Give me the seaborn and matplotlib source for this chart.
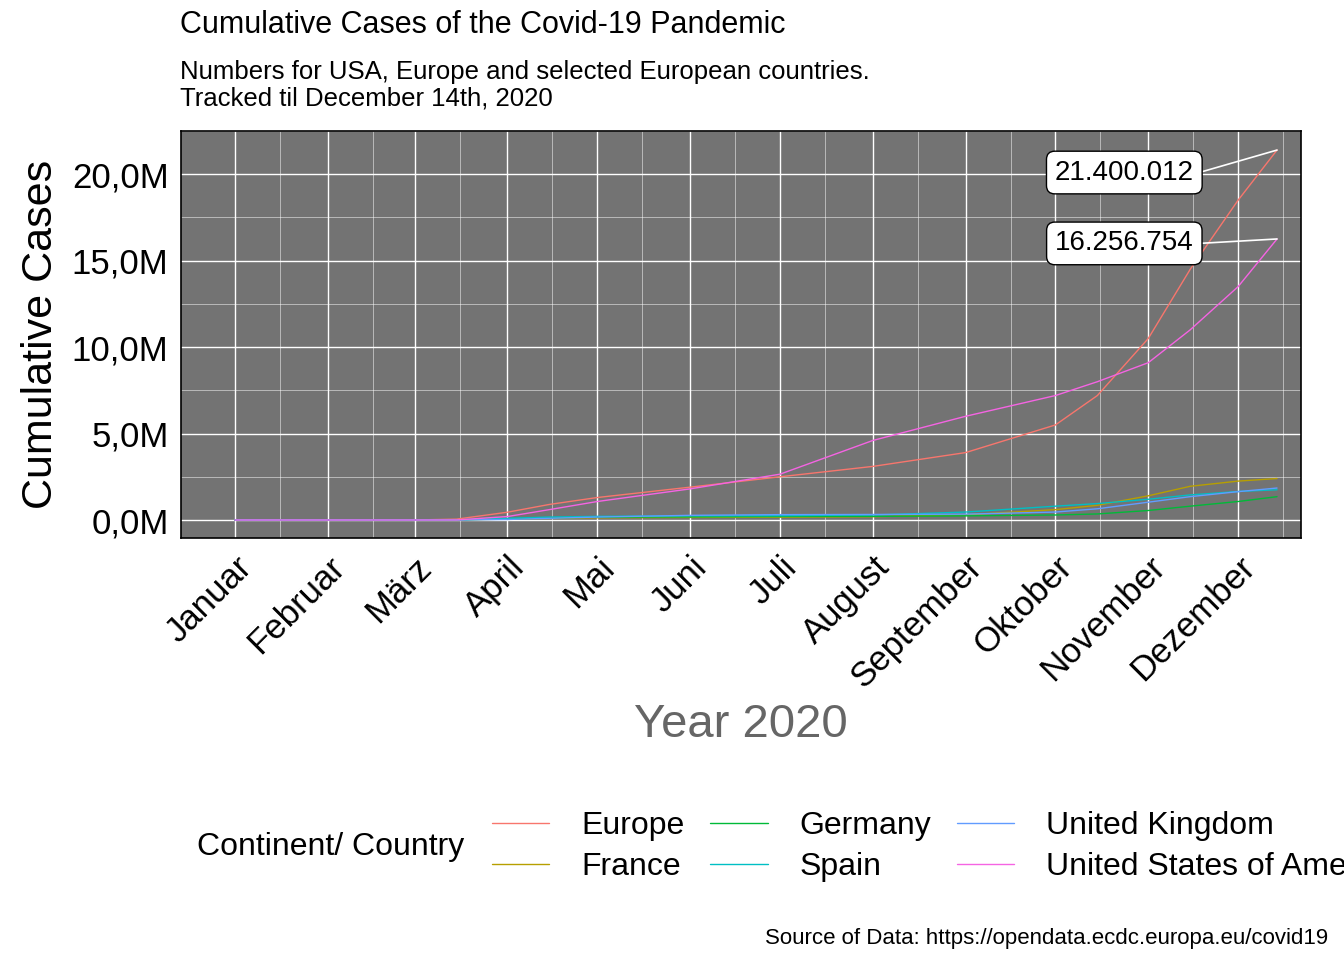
import numpy as np
import pandas as pd
import matplotlib.pyplot as plt
import seaborn as sns
from matplotlib.offsetbox import HPacker

# Kumulierte Fälle in Millionen
dates = ["2020-01-01", "2020-03-01", "2020-03-15", "2020-04-01", "2020-04-15", "2020-05-01",
         "2020-06-01", "2020-07-01", "2020-08-01", "2020-09-01", "2020-10-01", "2020-10-15",
         "2020-11-01", "2020-11-15", "2020-12-01", "2020-12-14"]
europe = [0, 0.002, 0.05, 0.45, 0.9, 1.3, 1.9, 2.5, 3.1, 3.9, 5.5, 7.2, 10.5, 14.5, 18.5, 21.400012]
france = [0, 0.0, 0.005, 0.05, 0.1, 0.13, 0.15, 0.16, 0.19, 0.3, 0.6, 0.85, 1.4, 1.95, 2.25, 2.4]
germany = [0, 0.0, 0.005, 0.07, 0.13, 0.16, 0.18, 0.2, 0.21, 0.24, 0.29, 0.35, 0.55, 0.8, 1.07, 1.35]
spain = [0, 0.0, 0.008, 0.1, 0.17, 0.21, 0.24, 0.25, 0.29, 0.46, 0.8, 0.95, 1.2, 1.45, 1.65, 1.75]
uk = [0, 0.0, 0.001, 0.03, 0.1, 0.17, 0.27, 0.31, 0.32, 0.34, 0.46, 0.65, 1.03, 1.35, 1.64, 1.85]
usa = [0, 0.0, 0.003, 0.2, 0.6, 1.07, 1.8, 2.65, 4.6, 6.0, 7.2, 8.0, 9.1, 11.0, 13.5, 16.256754]

names = ["Europe", "France", "Germany", "Spain", "United Kingdom", "United States of America"]
colors = ["#F8766D", "#B79F00", "#00BA38", "#00BFC4", "#619CFF", "#F564E3"]
months = ["Januar", "Februar", "März", "April", "Mai", "Juni", "Juli", "August",
          "September", "Oktober", "November", "Dezember"]

rows = []
for n, vals in zip(names, [europe, france, germany, spain, uk, usa]):
    for d, v in zip(dates, vals):
        rows.append({"date": pd.Timestamp(d), "cases": v * 1e6, "country": n})
df = pd.DataFrame(rows)

sns.set_style("dark")
plt.rcParams['font.family'] = ['Liberation Sans', 'DejaVu Sans']
plt.rcParams['text.color'] = 'black'
fig = plt.figure(figsize=(13.44, 9.6), dpi=100)
ax = fig.add_axes([0.1347, 0.4396, 0.8333, 0.4239])
ax.set_facecolor("#737373")
sns.lineplot(data=df, x="date", y="cases", hue="country", palette=colors, ax=ax,
             linewidth=1, legend=False)

ax.set_xlim(pd.Timestamp("2019-12-14"), pd.Timestamp("2020-12-22"))
ax.set_ylim(-1.04e6, 22.5e6)
ticks = [pd.Timestamp(2020, m, 1) for m in range(1, 13)]
ax.set_xticks(ticks)
ax.set_xticklabels(months, rotation=45, ha="right", rotation_mode="anchor", fontsize=25, color="black")
ax.set_xticks([pd.Timestamp(2020, m, 16) for m in range(1, 13)], minor=True)
yt = [0, 5e6, 10e6, 15e6, 20e6]
ax.set_yticks(yt)
ax.set_yticklabels(["0,0M", "5,0M", "10,0M", "15,0M", "20,0M"], fontsize=25, color="black")
ax.set_yticks([2.5e6, 7.5e6, 12.5e6, 17.5e6, 22.5e6], minor=True)
ax.grid(True, which="major", color="white", linewidth=1)
ax.grid(True, which="minor", color="white", linewidth=0.5, alpha=0.7)
ax.tick_params(axis="both", which="major", length=6, color="black", width=1.5, pad=3)
ax.tick_params(axis="both", which="minor", length=0)
for s in ax.spines.values():
    s.set_visible(True)
    s.set_color("black")
    s.set_linewidth(1.2)

ax.set_xlabel("Year 2020", fontsize=34, color="#666666", labelpad=6)
ax.set_ylabel("Cumulative Cases", fontsize=31, color="black", labelpad=8)

end = pd.Timestamp("2020-12-14")
lx = pd.Timestamp("2020-10-24")
for val, ly in [(europe[-1], 20.1e6), (usa[-1], 16.0e6)]:
    ax.plot([lx + pd.Timedelta(days=25), end], [ly, val * 1e6], color="white", lw=1.2)
    ax.text(lx, ly, f"{val * 1e6:,.0f}".replace(",", "."), fontsize=20, ha="center", va="center",
            color="black", bbox=dict(boxstyle="round,pad=0.3", fc="white", ec="black"))

fig.text(0.134, 0.99, "Cumulative Cases of the Covid-19 Pandemic", fontsize=22, va="top")
fig.text(0.134, 0.937, "Numbers for USA, Europe and selected European countries.\nTracked til December 14th, 2020",
         fontsize=18.5, va="top", linespacing=1.1)
fig.text(0.988, 0.017, "Source of Data: https://opendata.ecdc.europa.eu/covid19", fontsize=16, ha="right")

handles = [plt.Line2D([], [], color=c, lw=1) for c in colors]
leg = fig.legend(handles, names, ncol=3, loc="center left", bbox_to_anchor=(0.125, 0.118),
                 frameon=False, fontsize=23, title="Continent/ Country", title_fontsize=23,
                 handlelength=1.8, handletextpad=1.0, columnspacing=0.8, labelspacing=0.35)
box = leg._legend_box
box.__class__ = HPacker
box.sep = 20
box.align = "center"

fig.savefig("out.png", dpi=100)
